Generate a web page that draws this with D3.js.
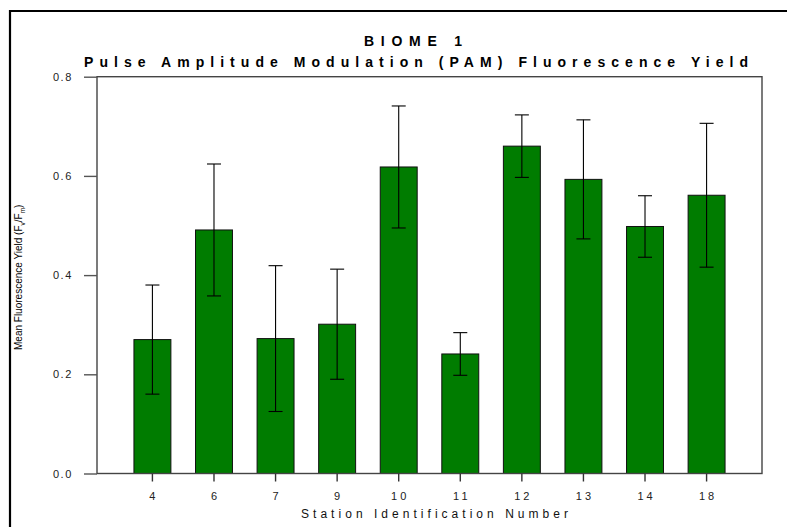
<!DOCTYPE html>
<html>
<head>
<meta charset="utf-8">
<script src="https://cdn.jsdelivr.net/npm/d3@7"></script>
<style>
  html, body { margin: 0; padding: 0; background: #fff; }
  svg { display: block; }
  text { font-family: "Liberation Sans", Arial, sans-serif; }
</style>
</head>
<body>
<svg id="chart" width="787" height="527"></svg>
<script>
// ---- data ----
const stations = ["4", "6", "7", "9", "10", "11", "12", "13", "14", "18"];
const meanYield = [0.270, 0.491, 0.272, 0.301, 0.618, 0.241, 0.660, 0.593, 0.498, 0.561];
const errYield  = [0.110, 0.133, 0.147, 0.111, 0.123, 0.043, 0.063, 0.120, 0.062, 0.145];
const yTicks = [0.0, 0.2, 0.4, 0.6, 0.8];
const titleText = "BIOME 1";
const subtitleText = "Pulse Amplitude Modulation (PAM) Fluorescence Yield";
const xTitle = "Station Identification Number";

// ---- layout ----
const svg = d3.select("#chart");
const plotL = 97, plotR = 762, plotT = 76.7, plotB = 473.5;

const x = d3.scaleBand().domain(stations).range([plotL, plotR])
  .paddingInner(0.4).paddingOuter(0.6);
const y = d3.scaleLinear().domain([0, 0.8]).range([plotB, plotT]);

// outer frame (left + top edges)
svg.append("path")
  .attr("d", "M10,527 L10,11 L787,11")
  .attr("fill", "none").attr("stroke", "#000").attr("stroke-width", 2.2);

// bars
const data = stations.map((s, i) => ({ s, m: meanYield[i], e: errYield[i] }));
svg.append("g").selectAll("rect").data(data).join("rect")
  .attr("x", d => x(d.s))
  .attr("y", d => y(d.m))
  .attr("width", x.bandwidth())
  .attr("height", d => y(0) - y(d.m))
  .attr("fill", "#007c00")
  .attr("stroke", "#111")
  .attr("stroke-width", 1);

// error bars
const eb = svg.append("g").attr("stroke", "#000").attr("stroke-width", 1.1);
data.forEach(d => {
  const cx = x(d.s) + x.bandwidth() / 2;
  eb.append("line").attr("x1", cx).attr("x2", cx).attr("y1", y(d.m + d.e)).attr("y2", y(d.m - d.e));
  eb.append("line").attr("x1", cx - 7).attr("x2", cx + 7).attr("y1", y(d.m + d.e)).attr("y2", y(d.m + d.e));
  eb.append("line").attr("x1", cx - 7).attr("x2", cx + 7).attr("y1", y(d.m - d.e)).attr("y2", y(d.m - d.e));
});

// plot frame
svg.append("rect")
  .attr("x", plotL).attr("y", plotT)
  .attr("width", plotR - plotL).attr("height", plotB - plotT)
  .attr("fill", "none").attr("stroke", "#444").attr("stroke-width", 1.4);

// y axis
const yAxis = svg.append("g").attr("transform", `translate(${plotL},0)`)
  .call(d3.axisLeft(y).tickValues(yTicks).tickSize(13).tickPadding(11)
    .tickFormat(d3.format(".1f")));
yAxis.select(".domain").remove();
yAxis.selectAll(".tick line").attr("stroke", "#555").attr("stroke-width", 1.4);
yAxis.selectAll(".tick text")
  .attr("font-size", 11).attr("fill", "#222")
  .attr("letter-spacing", "1.6px")
  .style("font-family", "'Liberation Sans', Arial, sans-serif");

// x axis
const xAxis = svg.append("g").attr("transform", `translate(0,${plotB})`)
  .call(d3.axisBottom(x).tickSize(8).tickPadding(11));
xAxis.select(".domain").remove();
xAxis.selectAll(".tick line").attr("stroke", "#333").attr("stroke-width", 1.4);
xAxis.selectAll(".tick text")
  .attr("font-size", 11).attr("fill", "#222")
  .attr("letter-spacing", "3px")
  .attr("dx", "1.5px")
  .style("font-family", "'Liberation Sans', Arial, sans-serif");

// titles
svg.append("text")
  .attr("x", 364).attr("y", 46)
  .attr("textLength", 98).attr("lengthAdjust", "spacing")
  .attr("font-size", 14).attr("font-weight", "bold").attr("fill", "#000")
  .text(titleText);

svg.append("text")
  .attr("x", 84).attr("y", 67)
  .attr("textLength", 664).attr("lengthAdjust", "spacing")
  .attr("font-size", 14).attr("font-weight", "bold").attr("fill", "#000")
  .text(subtitleText);

svg.append("text")
  .attr("x", 301).attr("y", 518)
  .attr("textLength", 267).attr("lengthAdjust", "spacing")
  .attr("font-size", 12).attr("fill", "#111")
  .text(xTitle);

// y axis title with subscripts
const yt = svg.append("text")
  .attr("transform", "translate(22,350) rotate(-90)")
  .attr("font-size", 10).attr("fill", "#000");
yt.append("tspan").text("Mean Fluorescence Yield (F");
yt.append("tspan").attr("font-size", 6.5).attr("dy", 3).text("v");
yt.append("tspan").attr("dy", -3).text("/F");
yt.append("tspan").attr("font-size", 6.5).attr("dy", 3).text("m");
yt.append("tspan").attr("dy", -3).text(")");
</script>
</body>
</html>
